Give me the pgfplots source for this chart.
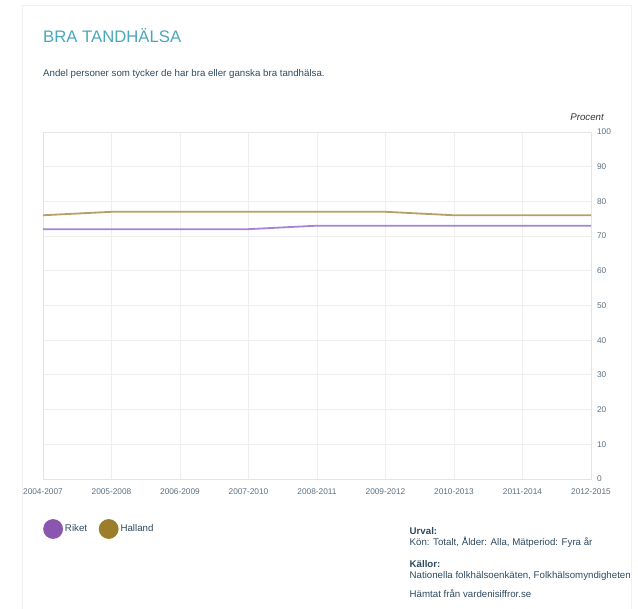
\documentclass[border=0pt]{standalone}
\usepackage{pgfplots}
\pgfplotsset{compat=1.18}
\usepackage{fontspec}
\setmainfont{Liberation Sans}
\definecolor{titlec}{HTML}{4AA8BA}
\definecolor{textc}{HTML}{2E4A5E}
\definecolor{tickc}{HTML}{5B7083}
\definecolor{gridc}{HTML}{EEEEEE}
\definecolor{axisc}{HTML}{E4E4E4}
\definecolor{cardc}{HTML}{F0F0F0}
\definecolor{rikline}{HTML}{A584D6}
\definecolor{halline}{HTML}{B5A064}
\definecolor{rikdot}{HTML}{8A56B0}
\definecolor{haldot}{HTML}{9B7D2C}
\begin{document}
\begin{tikzpicture}
\path[use as bounding box] (0,0) rectangle (638pt,609pt);
\draw[cardc, line width=0.8pt] (22pt,0pt) -- (22pt,604pt) -- (631pt,604pt) -- (631pt,0pt);
\begin{axis}[
  at={(43pt,130pt)}, anchor=south west,
  scale only axis, width=548pt, height=347pt,
  xmin=0, xmax=8, ymin=0, ymax=100,
  xtick={0,...,8},
  xticklabels={2004-2007,2005-2008,2006-2009,2007-2010,2008-2011,2009-2012,2010-2013,2011-2014,2012-2015},
  ytick={0,10,...,100},
  yticklabel pos=right,
  major tick length=0pt,
  grid=major,
  major grid style={draw=gridc, line width=0.8pt},
  axis line style={draw=axisc, line width=0.8pt},
  tick label style={font=\fontsize{8.3}{10}\selectfont, text=tickc},
  /pgf/number format/assume math mode=true,
  xticklabel style={yshift=-6.5pt},
  yticklabel style={xshift=2.5pt},
  legend style={at={(0,-0.1441)}, anchor=west, draw=none, fill=none,
    inner sep=0pt, font=\fontsize{9.7}{12}\selectfont, text=textc,
    nodes={inner sep=2pt},
    /tikz/every even column/.append style={column sep=9.7pt}},
  legend columns=2,
  legend cell align=left,
]
\addplot[rikline, line width=1.8pt, mark=none,
  legend image code/.code={\fill[rikdot] (9pt,0pt) circle (9pt);}]
  coordinates {(0,72) (1,72) (2,72) (3,72) (4,73) (5,73) (6,73) (7,73) (8,73)};
\addlegendentry{Riket}
\addplot[halline, line width=1.8pt, mark=none,
  legend image code/.code={\fill[haldot] (9pt,0pt) circle (9pt);}]
  coordinates {(0,76) (1,77) (2,77) (3,77) (4,77) (5,77) (6,76) (7,76) (8,76)};
\addlegendentry{Halland}
\end{axis}
\node[anchor=base west, inner sep=0pt, text=titlec, font=\fontsize{16.7}{20}\selectfont] at (43pt,566.3pt) {BRA TANDHÄLSA};
\node[anchor=base west, inner sep=0pt, text=textc, font=\fontsize{9.7}{12}\selectfont] at (43pt,532.5pt) {Andel personer som tycker de har bra eller ganska bra tandhälsa.};
\node[anchor=base east, inner sep=0pt, text=black!80, font=\fontsize{9.7}{12}\selectfont\itshape] at (604pt,488pt) {Procent};
\begin{scope}[every node/.style={anchor=base west, inner sep=0pt, text=textc, font=\fontsize{9.7}{12}\selectfont}]
\node at (409.5pt,74.3pt) {\textbf{Urval:}};
\node at (409.5pt,63.3pt) {Kön: Totalt, Ålder: Alla, Mätperiod: Fyra år};
\node at (409.5pt,41.3pt) {\textbf{Källor:}};
\node at (409.5pt,30pt) {Nationella folkhälsoenkäten, Folkhälsomyndigheten};
\node at (409.5pt,11.3pt) {Hämtat från vardenisiffror.se};
\end{scope}
\end{tikzpicture}
\end{document}
